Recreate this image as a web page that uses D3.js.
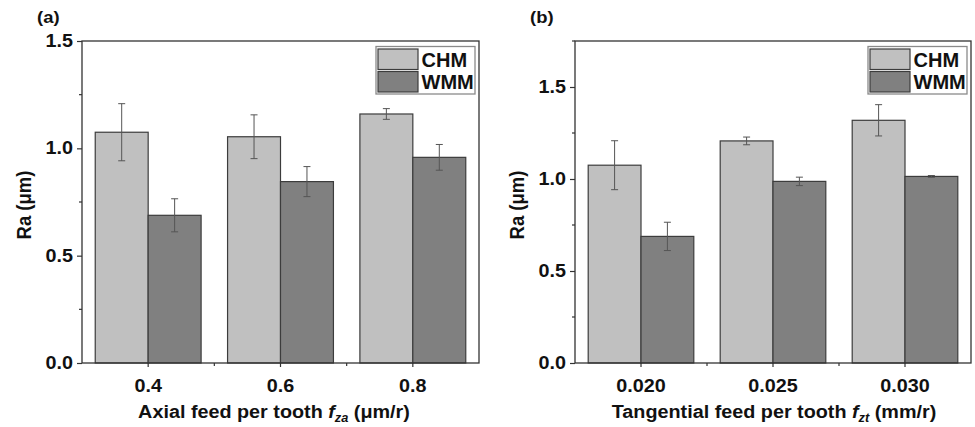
<!DOCTYPE html>
<html>
<head>
<meta charset="utf-8">
<script src="https://cdn.jsdelivr.net/npm/d3@7"></script>
<style>
  html, body { margin: 0; padding: 0; background: #fff; }
  svg { display: block; font-family: "Liberation Sans", Arial, Helvetica, sans-serif; }
</style>
</head>
<body>
<svg id="chart" width="975" height="427"></svg>
<script>
// Surface roughness Ra for the two milling methods
const seriesNames = ["CHM", "WMM"];

// (a) axial feed per tooth
const categoriesA = ["0.4", "0.6", "0.8"];
const chmA = [1.075, 1.054, 1.160];
const chmErrA = [0.133, 0.102, 0.025];
const wmmA = [0.688, 0.845, 0.958];
const wmmErrA = [0.077, 0.070, 0.060];
const yMajorA = [0, 0.5, 1.0, 1.5];
const yMinorA = [0.25, 0.75, 1.25];

// (b) tangential feed per tooth
const categoriesB = ["0.020", "0.025", "0.030"];
const chmB = [1.075, 1.207, 1.319];
const chmErrB = [0.133, 0.021, 0.085];
const wmmB = [0.688, 0.987, 1.014];
const wmmErrB = [0.077, 0.023, 0.005];
const yMajorB = [0, 0.5, 1.0, 1.5];
const yMinorB = [0.25, 0.75, 1.25, 1.75];

const colors = { CHM: "#c0c0c0", WMM: "#808080" };
const WIDE = 1.13;   // slightly widened bold lettering for tick labels
const svg = d3.select("#chart");

function drawPanel(o) {
  const g = svg.append("g");
  const x = d3.scaleBand().domain(o.categories).range([o.left, o.right]).padding(0);
  const pairWidth = x.bandwidth() * 0.8;
  const xs = d3.scaleBand().domain(seriesNames).range([0, pairWidth]).padding(0);
  const y = d3.scaleLinear().domain(o.yDomain).range([o.bottom, o.top]);

  const rows = o.categories.map((c, i) => ({
    cat: c,
    vals: [
      { key: "CHM", v: o.chm[i], e: o.chmErr[i] },
      { key: "WMM", v: o.wmm[i], e: o.wmmErr[i] }
    ]
  }));

  // bars
  const grp = g.selectAll("g.grp").data(rows).join("g")
    .attr("transform", d => `translate(${x(d.cat) + (x.bandwidth() - pairWidth) / 2},0)`);
  grp.selectAll("rect").data(d => d.vals).join("rect")
    .attr("x", d => xs(d.key))
    .attr("y", d => y(d.v))
    .attr("width", xs.bandwidth())
    .attr("height", d => y(0) - y(d.v))
    .attr("fill", d => colors[d.key])
    .attr("stroke", "#3c3c3c")
    .attr("stroke-width", 1.2);

  // error bars
  const eb = grp.selectAll("g.err").data(d => d.vals).join("g")
    .attr("stroke", "#555").attr("stroke-width", 1).attr("fill", "none");
  const cx = d => xs(d.key) + xs.bandwidth() / 2;
  eb.append("line")
    .attr("x1", cx).attr("x2", cx)
    .attr("y1", d => y(d.v + d.e)).attr("y2", d => y(d.v - d.e));
  eb.append("line")
    .attr("x1", d => cx(d) - 3.5).attr("x2", d => cx(d) + 3.5)
    .attr("y1", d => y(d.v + d.e)).attr("y2", d => y(d.v + d.e));
  eb.append("line")
    .attr("x1", d => cx(d) - 3.5).attr("x2", d => cx(d) + 3.5)
    .attr("y1", d => y(d.v - d.e)).attr("y2", d => y(d.v - d.e));

  // frame
  g.append("rect")
    .attr("x", o.left).attr("y", o.top)
    .attr("width", o.right - o.left).attr("height", o.bottom - o.top)
    .attr("fill", "none").attr("stroke", "#333").attr("stroke-width", 1.3);

  // y axis
  const yAxis = g.append("g").attr("transform", `translate(${o.left},0)`)
    .call(d3.axisLeft(y).tickValues(o.yMajor).tickFormat(d3.format(".1f")).tickSize(5).tickPadding(4));
  yAxis.select(".domain").remove();
  yAxis.selectAll(".tick line").attr("stroke", "#333").attr("stroke-width", 1.2);
  yAxis.selectAll(".tick text")
    .attr("font-size", 17.5).attr("font-weight", "bold").attr("fill", "#111")
    .attr("font-family", "Liberation Sans, Arial, sans-serif")
    .attr("x", -9 / WIDE)
    .attr("transform", `scale(${WIDE},1)`);
  g.append("g").selectAll("line").data(o.yMinor).join("line")
    .attr("x1", o.left - 3).attr("x2", o.left)
    .attr("y1", d => y(d)).attr("y2", d => y(d))
    .attr("stroke", "#333").attr("stroke-width", 1.2);

  // x axis
  const xAxis = g.append("g").attr("transform", `translate(0,${o.bottom})`)
    .call(d3.axisBottom(x).tickSize(4).tickPadding(13));
  xAxis.select(".domain").remove();
  xAxis.selectAll(".tick line").attr("stroke", "#333").attr("stroke-width", 1.2);
  xAxis.selectAll(".tick text")
    .attr("font-size", 17.5).attr("font-weight", "bold").attr("fill", "#111")
    .attr("font-family", "Liberation Sans, Arial, sans-serif")
    .attr("transform", `scale(${WIDE},1)`);
  g.append("g").selectAll("line").data(o.categories.slice(1)).join("line")
    .attr("x1", d => x(d)).attr("x2", d => x(d))
    .attr("y1", o.bottom).attr("y2", o.bottom + 3)
    .attr("stroke", "#333").attr("stroke-width", 1.2);

  // axis titles
  const xt = g.append("text")
    .attr("transform", `translate(${o.xTitleX},418) scale(1.07,1)`)
    .attr("text-anchor", "middle").attr("font-size", 18.5).attr("font-weight", "bold").attr("fill", "#111");
  xt.append("tspan").text(o.xTitle[0] + " ");
  xt.append("tspan").attr("font-style", "italic").text("f");
  xt.append("tspan").attr("font-style", "italic").attr("font-size", 12).attr("dy", 4).text(o.xTitle[1]);
  xt.append("tspan").attr("dy", -4).text(" " + o.xTitle[2]);

  g.append("text")
    .attr("transform", `translate(${o.yTitleX},${(o.top + o.bottom) / 2 + 3}) rotate(-90) scale(1,1.1)`)
    .attr("text-anchor", "middle").attr("font-size", 18.5).attr("font-weight", "bold").attr("fill", "#111")
    .text("Ra (μm)");

  // panel label
  g.append("text")
    .attr("transform", `translate(${o.labelX},23) scale(1.12,1)`)
    .attr("font-size", 16.5).attr("font-weight", "bold").attr("fill", "#111").text(o.label);

  // legend
  const lx = o.right - 103, ly = o.top + 5.5;
  const lg = g.append("g").attr("transform", `translate(${lx},${ly})`);
  lg.append("rect").attr("x", 0).attr("y", 0).attr("width", 99).attr("height", 47.5)
    .attr("fill", "#fff").attr("stroke", "#8a8a8a").attr("stroke-width", 1.3);
  const item = lg.selectAll("g").data(seriesNames).join("g")
    .attr("transform", (d, i) => `translate(2,${2.5 + i * 22.5})`);
  item.append("rect").attr("width", 40).attr("height", 20.5)
    .attr("fill", d => colors[d]).attr("stroke", "#3c3c3c").attr("stroke-width", 1.2);
  item.append("text").attr("x", 43.5).attr("y", 17.5)
    .attr("font-size", 20).attr("font-weight", "bold").attr("fill", "#111").text(d => d);
}

drawPanel({
  left: 82, right: 479, top: 41, bottom: 363,
  yDomain: [0, 1.5], yMajor: yMajorA, yMinor: yMinorA,
  categories: categoriesA, chm: chmA, chmErr: chmErrA, wmm: wmmA, wmmErr: wmmErrA,
  xTitle: ["Axial feed per tooth", "za", "(μm/r)"], xTitleX: 274,
  yTitleX: 31, label: "(a)", labelX: 37
});

drawPanel({
  left: 575, right: 971, top: 41, bottom: 363,
  yDomain: [0, 1.75], yMajor: yMajorB, yMinor: yMinorB,
  categories: categoriesB, chm: chmB, chmErr: chmErrB, wmm: wmmB, wmmErr: wmmErrB,
  xTitle: ["Tangential feed per tooth", "zt", "(mm/r)"], xTitleX: 774,
  yTitleX: 524, label: "(b)", labelX: 530
});
</script>
</body>
</html>
